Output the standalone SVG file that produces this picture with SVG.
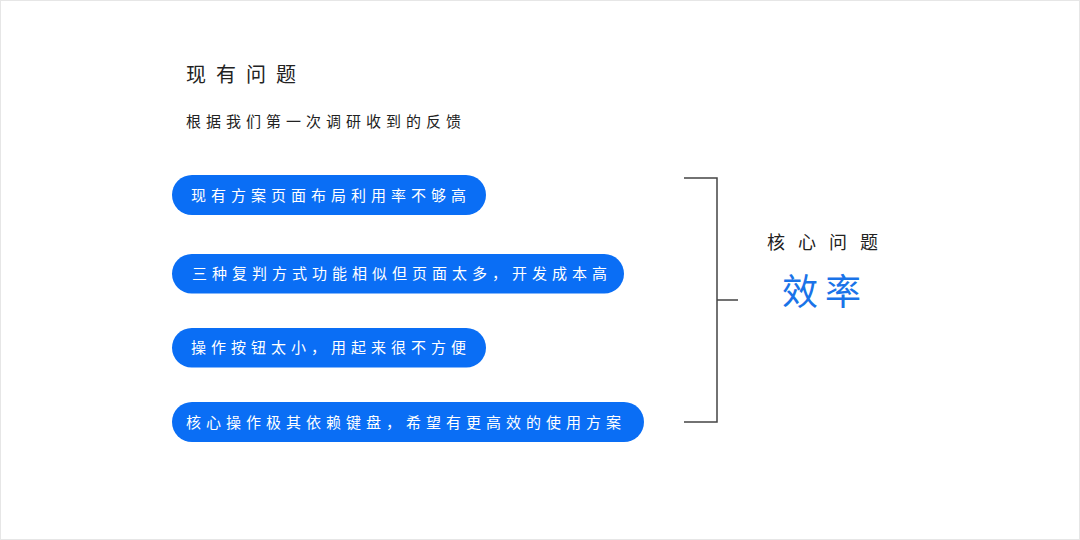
<svg xmlns="http://www.w3.org/2000/svg" width="1080" height="540" viewBox="0 0 1080 540">
<style>
text{font-family:"Noto Sans CJK SC","Noto Sans",sans-serif;}
.pill{fill:#0a6ef5;}
.pt{fill:#ffffff;font-size:15px;letter-spacing:5px;}
.dark{fill:#222222;}
.br{fill:none;stroke:#444444;stroke-width:1.5;}
</style>
<rect x="0.5" y="0.5" width="1079" height="539" fill="#ffffff" stroke="#e6e6e6" stroke-width="1"/>
<g id="title">
<text class="dark" x="186" y="82" font-size="20" letter-spacing="10">现有问题</text>
</g>
<g id="subtitle">
<text class="dark" x="186" y="127" font-size="15" letter-spacing="5">根据我们第一次调研收到的反馈</text>
</g>
<g id="item1">
<rect class="pill" x="172" y="175" width="314" height="40" rx="20"/>
<text class="pt" x="191" y="200.5">现有方案页面布局利用率不够高</text>
</g>
<g id="item2">
<rect class="pill" x="172" y="254" width="452" height="39.5" rx="19.75"/>
<text class="pt" x="192" y="279">三种复判方式功能相似但页面太多，开发成本高</text>
</g>
<g id="item3">
<rect class="pill" x="172" y="328" width="314" height="39.5" rx="19.75"/>
<text class="pt" x="191" y="353">操作按钮太小，用起来很不方便</text>
</g>
<g id="item4">
<rect class="pill" x="172" y="402" width="472" height="40" rx="20"/>
<text class="pt" x="186" y="427.5">核心操作极其依赖键盘，希望有更高效的使用方案</text>
</g>
<g id="connectors">
<path class="br" d="M684 178 H717 V422 H684 M717 300 H738"/>
</g>
<g id="core">
<text class="dark" x="767" y="249" font-size="18" letter-spacing="13">核心问题</text>
<text x="782" y="305" font-size="36" letter-spacing="7" fill="#1a73e8">效率</text>
</g>
</svg>
